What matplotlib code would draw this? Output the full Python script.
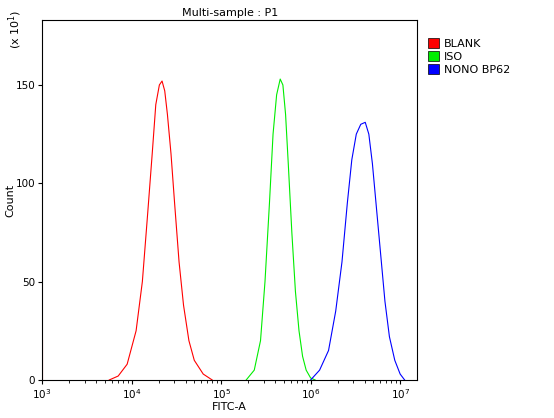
import matplotlib
matplotlib.use("Agg")
import matplotlib.pyplot as plt
from matplotlib.patches import Patch
import numpy as np

red_logx = [3.75,3.85,3.95,4.05,4.12,4.18,4.23,4.27,4.31,4.34,4.37,4.40,4.44,4.48,4.53,4.58,4.64,4.70,4.80,4.90]
red_cnt  = [0,2,8,25,50,85,115,140,150,152,147,135,115,90,60,38,20,10,3,0]
green_logx = [5.28,5.37,5.44,5.49,5.54,5.58,5.62,5.66,5.69,5.72,5.75,5.79,5.83,5.87,5.91,5.95,6.00,6.05]
green_cnt  = [0,5,20,50,90,125,145,153,150,135,110,75,45,25,12,5,1,0]
blue_logx = [6.0,6.1,6.2,6.28,6.35,6.41,6.46,6.51,6.56,6.61,6.65,6.69,6.73,6.78,6.83,6.88,6.94,7.0,7.05]
blue_cnt  = [0,5,15,35,60,90,112,125,130,131,125,110,90,65,40,22,10,3,0]
labels = ["BLANK", "ISO", "NONO BP62"]
colors = ["#ff0000", "#00ee00", "#0000ff"]

fig = plt.figure(figsize=(5.54, 4.18), dpi=100)
ax = fig.add_axes([0.076, 0.091, 0.677, 0.861])
for lx, c, col in [(red_logx, red_cnt, colors[0]), (green_logx, green_cnt, colors[1]), (blue_logx, blue_cnt, colors[2])]:
    ax.plot(10**np.array(lx), c, color=col, lw=0.8)
ax.plot([1000, 1000], [0, 20], color=colors[0], lw=1.5)
ax.set_xscale("log")
ax.set_xlim(1000, 10**7.19)
ax.set_ylim(0, 183)
ax.set_yticks([0, 50, 100, 150])
ax.tick_params(labelsize=7.5, length=3, pad=2)
ax.set_xlabel("FITC-A", fontsize=8, labelpad=1)
ax.set_ylabel("Count", fontsize=8)
ax.yaxis.set_label_coords(-0.07, 0.5)
ax.set_title("Multi-sample : P1", fontsize=8, pad=3)
fig.text(0.012, 0.93, r"(x 10$^1$)", rotation=90, fontsize=8, va="center")
handles = [Patch(facecolor=c, edgecolor="black", lw=0.5) for c in colors]
fig.legend(handles, labels, loc="upper left", bbox_to_anchor=(0.765, 0.92), frameon=False,
           fontsize=8, handlelength=1.0, handleheight=1.0, handletextpad=0.4, labelspacing=0.2, borderaxespad=0)
fig.savefig("out.png", dpi=100)
